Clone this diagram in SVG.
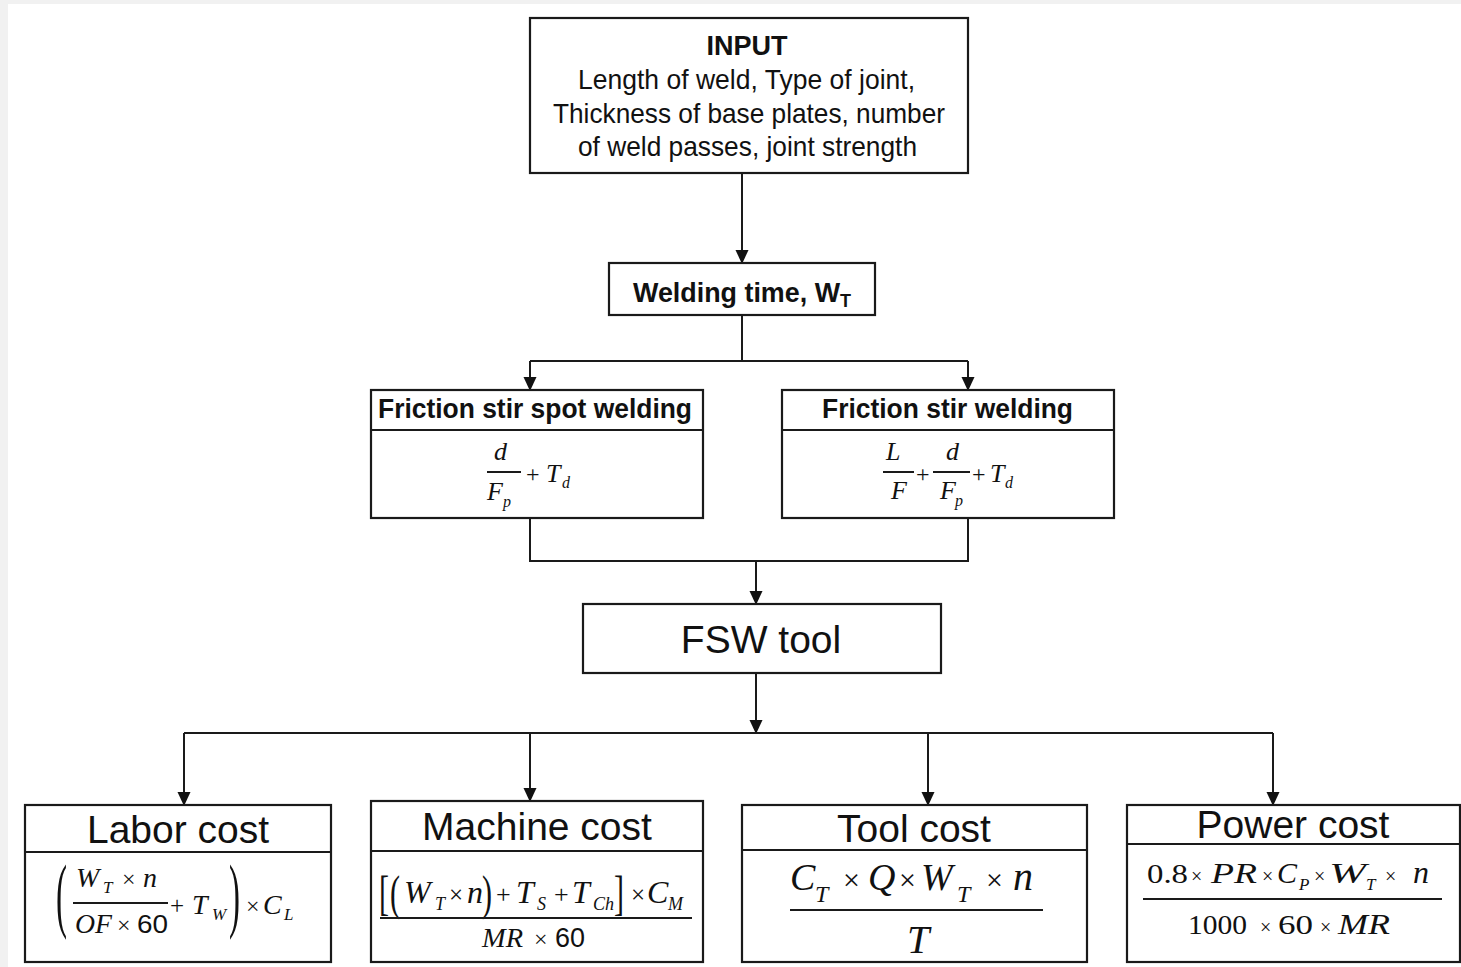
<svg xmlns="http://www.w3.org/2000/svg" width="1461" height="967" viewBox="0 0 1461 967">
<defs>
<marker id="arr" markerWidth="14" markerHeight="14" refX="13" refY="6.5" orient="auto" markerUnits="userSpaceOnUse">
<path d="M0,0 L14,6.5 L0,13 z" fill="#111"/>
</marker>
<style>
.box{fill:#fff;stroke:#1a1a1a;stroke-width:2.2}
.div{stroke:#1a1a1a;stroke-width:2.2}
.con{fill:none;stroke:#1a1a1a;stroke-width:2}
.fl{stroke:#1a1a1a;stroke-width:2}
.s{font-family:"Liberation Sans",Arial,sans-serif;fill:#111}
.b{font-weight:bold}
.t{font-size:39px;text-anchor:middle}
.m{font-family:"Liberation Serif","Times New Roman",serif;font-style:italic;fill:#111}
.u{font-family:"Liberation Serif","Times New Roman",serif;font-style:normal;fill:#111}
</style>
</defs>
<rect x="0" y="0" width="1461" height="967" fill="#f1f1f1"/>
<rect x="8" y="4" width="1453" height="963" fill="#fff"/>

<g id="connectors">
<line class="con" x1="742" y1="173" x2="742" y2="263" marker-end="url(#arr)"/>
<polyline class="con" points="742,315 742,361"/>
<line class="con" x1="530" y1="361" x2="968" y2="361"/>
<line class="con" x1="530" y1="361" x2="530" y2="390" marker-end="url(#arr)"/>
<line class="con" x1="968" y1="361" x2="968" y2="390" marker-end="url(#arr)"/>
<polyline class="con" points="530,518 530,561 968,561 968,518"/>
<line class="con" x1="756" y1="561" x2="756" y2="604" marker-end="url(#arr)"/>
<line class="con" x1="756" y1="673" x2="756" y2="733" marker-end="url(#arr)"/>
<line class="con" x1="184" y1="733" x2="1273" y2="733"/>
<line class="con" x1="184" y1="733" x2="184" y2="805" marker-end="url(#arr)"/>
<line class="con" x1="530" y1="733" x2="530" y2="801" marker-end="url(#arr)"/>
<line class="con" x1="928" y1="733" x2="928" y2="805" marker-end="url(#arr)"/>
<line class="con" x1="1273" y1="733" x2="1273" y2="805" marker-end="url(#arr)"/>
</g>

<g id="input">
<rect class="box" x="530" y="18" width="438" height="155"/>
<text class="s b" x="747" y="55" font-size="27" text-anchor="middle">INPUT</text>
<text class="s" x="578" y="89" font-size="28" textLength="337" lengthAdjust="spacingAndGlyphs">Length of weld, Type of joint,</text>
<text class="s" x="553" y="123" font-size="28" textLength="392" lengthAdjust="spacingAndGlyphs">Thickness of base plates, number</text>
<text class="s" x="578" y="156" font-size="28" textLength="339" lengthAdjust="spacingAndGlyphs">of weld passes, joint strength</text>
</g>

<g id="welding-time">
<rect class="box" x="609" y="263" width="266" height="52"/>
<text class="s b" x="633" y="302" font-size="27" textLength="207" lengthAdjust="spacingAndGlyphs">Welding time, W</text>
<text class="s b" x="840" y="307" font-size="18">T</text>
</g>

<g id="fssw">
<rect class="box" x="371" y="390" width="332" height="128"/>
<line class="div" x1="371" y1="430" x2="703" y2="430"/>
<text class="s b" x="378" y="418" font-size="27" textLength="314" lengthAdjust="spacingAndGlyphs">Friction stir spot welding</text>
<text class="m" x="494" y="460" font-size="26">d</text>
<line class="fl" x1="487" y1="472" x2="521" y2="472" stroke-width="1.6"/>
<text class="m" x="487" y="500" font-size="26">F</text>
<text class="m" x="503" y="507" font-size="16">p</text>
<text class="u" x="526" y="482" font-size="24">+</text>
<text class="m" x="546" y="482" font-size="26">T</text>
<text class="m" x="562" y="488" font-size="16">d</text>
</g>

<g id="fsw">
<rect class="box" x="782" y="390" width="332" height="128"/>
<line class="div" x1="782" y1="430" x2="1114" y2="430"/>
<text class="s b" x="822" y="418" font-size="27" textLength="251" lengthAdjust="spacingAndGlyphs">Friction stir welding</text>
<text class="m" x="886" y="460" font-size="26">L</text>
<line class="fl" x1="883" y1="472" x2="914" y2="472" stroke-width="1.6"/>
<text class="m" x="891" y="499" font-size="26">F</text>
<text class="u" x="916" y="482" font-size="24">+</text>
<text class="m" x="946" y="460" font-size="26">d</text>
<line class="fl" x1="933" y1="472" x2="970" y2="472" stroke-width="1.6"/>
<text class="m" x="940" y="499" font-size="26">F</text>
<text class="m" x="955" y="506" font-size="16">p</text>
<text class="u" x="972" y="482" font-size="24">+</text>
<text class="m" x="990" y="482" font-size="26">T</text>
<text class="m" x="1005" y="488" font-size="16">d</text>
</g>

<g id="fsw-tool">
<rect class="box" x="583" y="604" width="358" height="69"/>
<text class="s" x="761" y="653" font-size="39" text-anchor="middle">FSW tool</text>
</g>

<g id="labor-cost">
<rect class="box" x="25" y="805" width="306" height="157"/>
<line class="div" x1="25" y1="852" x2="331" y2="852"/>
<text class="s t" x="178" y="843">Labor cost</text>
<text class="u" font-size="30" transform="translate(56,922) scale(1.1,2.75)">(</text>
<text class="m" x="76" y="887" font-size="28">W</text>
<text class="m" x="103" y="893" font-size="17">T</text>
<text class="u" x="122" y="887" font-size="24">×</text>
<text class="m" x="143" y="887" font-size="28">n</text>
<line class="fl" x1="73" y1="903" x2="168" y2="903" stroke-width="1.8"/>
<text class="m" x="75" y="933" font-size="27" textLength="37" lengthAdjust="spacingAndGlyphs">OF</text>
<text class="u" x="117" y="933" font-size="24">×</text>
<text class="s" x="137" y="933" font-size="26" textLength="31" lengthAdjust="spacingAndGlyphs">60</text>
<text class="u" x="170" y="914" font-size="25">+</text>
<text class="m" x="192" y="914" font-size="28">T</text>
<text class="m" x="212" y="920" font-size="17">W</text>
<text class="u" font-size="30" transform="translate(229,922) scale(1.1,2.75)">)</text>
<text class="u" x="246" y="914" font-size="24">×</text>
<text class="m" x="263" y="914" font-size="28">C</text>
<text class="m" x="284" y="920" font-size="17">L</text>
</g>

<g id="machine-cost">
<rect class="box" x="371" y="801" width="332" height="161"/>
<line class="div" x1="371" y1="851" x2="703" y2="851"/>
<text class="s t" x="537" y="840">Machine cost</text>
<text class="u" font-size="30" transform="translate(379,909) scale(1,1.6)">[</text>
<text class="u" font-size="30" transform="translate(390,909) scale(1,1.6)">(</text>
<text class="m" x="404" y="903" font-size="32">W</text>
<text class="m" x="435" y="910" font-size="18">T</text>
<text class="u" x="449" y="903" font-size="25">×</text>
<text class="m" x="467" y="903" font-size="32">n</text>
<text class="u" font-size="30" transform="translate(482,909) scale(1,1.6)">)</text>
<text class="u" x="496" y="903" font-size="26">+</text>
<text class="m" x="516" y="903" font-size="32">T</text>
<text class="m" x="537" y="910" font-size="18">S</text>
<text class="u" x="554" y="903" font-size="26">+</text>
<text class="m" x="572" y="903" font-size="32">T</text>
<text class="m" x="593" y="910" font-size="18">Ch</text>
<text class="u" font-size="30" transform="translate(614,909) scale(1,1.6)">]</text>
<text class="u" x="631" y="903" font-size="25">×</text>
<text class="m" x="647" y="903" font-size="32">C</text>
<text class="m" x="668" y="910" font-size="18">M</text>
<line class="fl" x1="380" y1="918" x2="692" y2="918" stroke-width="2"/>
<text class="m" x="482" y="947" font-size="28" textLength="41" lengthAdjust="spacingAndGlyphs">MR</text>
<text class="u" x="534" y="947" font-size="24">×</text>
<text class="s" x="555" y="947" font-size="27" textLength="30" lengthAdjust="spacingAndGlyphs">60</text>
</g>

<g id="tool-cost">
<rect class="box" x="742" y="805" width="345" height="157"/>
<line class="div" x1="742" y1="850" x2="1087" y2="850"/>
<text class="s t" x="914" y="842">Tool cost</text>
<text class="m" x="790" y="890" font-size="38">C</text>
<text class="m" x="815" y="902" font-size="24">T</text>
<text class="u" x="843" y="890" font-size="30">×</text>
<text class="m" x="868" y="890" font-size="38">Q</text>
<text class="u" x="899" y="890" font-size="30">×</text>
<text class="m" x="921" y="890" font-size="38">W</text>
<text class="m" x="957" y="902" font-size="24">T</text>
<text class="u" x="986" y="890" font-size="30">×</text>
<text class="m" x="1013" y="890" font-size="40">n</text>
<line class="fl" x1="790" y1="910" x2="1043" y2="910" stroke-width="2.2"/>
<text class="m" x="918" y="953" font-size="40" text-anchor="middle">T</text>
</g>

<g id="power-cost">
<rect class="box" x="1127" y="805" width="333" height="157"/>
<line class="div" x1="1127" y1="844" x2="1460" y2="844"/>
<text class="s t" x="1293" y="838">Power cost</text>
<text class="u" x="1147" y="883" font-size="28" textLength="41" lengthAdjust="spacingAndGlyphs">0.8</text>
<text class="u" x="1191" y="883" font-size="20">×</text>
<text class="m" x="1211" y="883" font-size="30" textLength="46" lengthAdjust="spacingAndGlyphs">PR</text>
<text class="u" x="1262" y="883" font-size="20">×</text>
<text class="m" x="1277" y="883" font-size="30">C</text>
<text class="m" x="1299" y="890" font-size="17">P</text>
<text class="u" x="1314" y="883" font-size="20">×</text>
<text class="m" x="1329" y="883" font-size="30" textLength="37" lengthAdjust="spacingAndGlyphs">W</text>
<text class="m" x="1366" y="890" font-size="17">T</text>
<text class="u" x="1385" y="883" font-size="20">×</text>
<text class="m" x="1413" y="883" font-size="32">n</text>
<line class="fl" x1="1143" y1="899" x2="1442" y2="899" stroke-width="2"/>
<text class="u" x="1188" y="934" font-size="28" textLength="59" lengthAdjust="spacingAndGlyphs">1000</text>
<text class="u" x="1260" y="934" font-size="20">×</text>
<text class="u" x="1278" y="934" font-size="28" textLength="35" lengthAdjust="spacingAndGlyphs">60</text>
<text class="u" x="1320" y="934" font-size="20">×</text>
<text class="m" x="1338" y="934" font-size="30" textLength="52" lengthAdjust="spacingAndGlyphs">MR</text>
</g>
</svg>
